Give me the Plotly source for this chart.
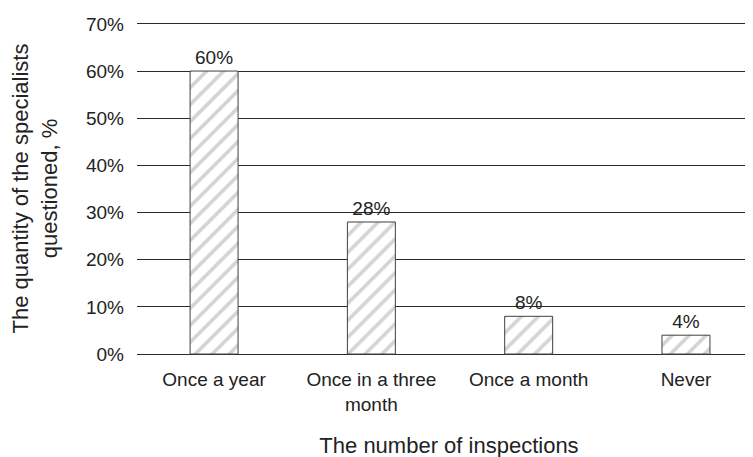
import plotly.graph_objects as go

# ---------------------------------------------------------------------------
# DATA
# ---------------------------------------------------------------------------
categories = ["Once a year", "Once in a three<br>month", "Once a month", "Never"]
shares = [0.60, 0.28, 0.08, 0.04]
share_labels = ["60%", "28%", "8%", "4%"]
y_ticks = [0, 0.1, 0.2, 0.3, 0.4, 0.5, 0.6, 0.7]
y_tick_labels = ["0%", "10%", "20%", "30%", "40%", "50%", "60%", "70%"]

TEXT_COLOR = "#222222"
GRID_COLOR = "#2a2a2a"
FONT = "Liberation Sans, Arial, sans-serif"

fig = go.Figure()

fig.add_trace(go.Bar(
    x=list(range(len(categories))), y=shares,
    width=0.305,
    text=share_labels, textposition="outside", cliponaxis=False,
    textfont=dict(size=19, color=TEXT_COLOR, family=FONT),
    marker=dict(
        color="white",
        line=dict(color="#404040", width=1),
        pattern=dict(shape="/", fgcolor="#a8a8a8", bgcolor="white",
                     size=12, solidity=0.3),
    ),
    showlegend=False,
))

# the page body adds an 8px offset, so margins are shifted to compensate;
# y range padded a little so plotly keeps the 0% and 70% grid lines
fig.update_layout(
    width=753, height=457,
    paper_bgcolor="white", plot_bgcolor="white",
    font=dict(family=FONT, color=TEXT_COLOR, size=19),
    margin=dict(l=129, r=0, t=14, b=110),
    xaxis=dict(
        tickmode="array", tickvals=list(range(len(categories))), ticktext=categories,
        range=[-0.49, 3.477], showgrid=False, zeroline=False, showline=False,
        ticks="", ticklabelstandoff=11,
        tickfont=dict(size=19, color=TEXT_COLOR),
        title=dict(text="The number of inspections", standoff=23,
                   font=dict(size=22, color=TEXT_COLOR)),
    ),
    yaxis=dict(
        range=[-0.002, 0.704], tickvals=y_ticks, ticktext=y_tick_labels,
        showgrid=True, gridcolor=GRID_COLOR, gridwidth=1,
        zeroline=True, zerolinecolor=GRID_COLOR, zerolinewidth=1,
        showline=False, ticks="", ticklabelstandoff=12,
        tickfont=dict(size=19, color=TEXT_COLOR),
        title=dict(text="The quantity of the specialists<br>questioned, %",
                   standoff=24, font=dict(size=22, color=TEXT_COLOR)),
    ),
)

fig.write_html("out.html")
